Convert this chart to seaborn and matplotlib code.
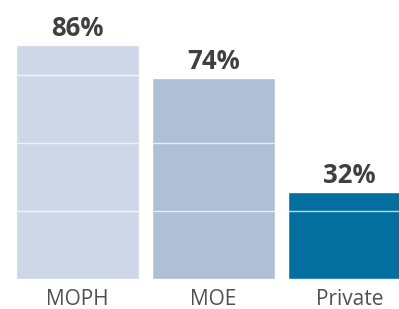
import matplotlib
matplotlib.use("Agg")
import matplotlib.pyplot as plt
import seaborn as sns
import pandas as pd

# Dados
categories = ["MOPH", "MOE", "Private"]
values = [86, 74, 32]
labels = ["86%", "74%", "32%"]
colors = ["#cdd7e7", "#afbfd6", "#036f9f"]

sns.set_style("white")
plt.rcParams['font.family'] = ['Open Sans', 'DejaVu Sans']

df = pd.DataFrame({"cat": categories, "val": values})

fig = plt.figure(figsize=(3.99, 3.09), dpi=100)
ax = fig.add_axes([0, 30 / 309, 1, 279 / 309])

sns.barplot(data=df, x="cat", y="val", hue="cat", palette=colors,
            width=0.9, saturation=1, legend=False, ax=ax)

ax.set_xlim(-0.57, 2.364)
ax.set_ylim(0, 102.6)

# grade branca sobre as barras
ax.set_yticks([25, 50, 75])
ax.yaxis.grid(True, color="white", linewidth=1, alpha=0.75)
ax.set_axisbelow(False)
ax.tick_params(axis="y", left=False, labelleft=False)

for cont, lab in zip(ax.containers, labels):
    ax.bar_label(cont, labels=[lab], padding=2, fontsize=18.5,
                 fontweight="bold", color="#404040")

ax.tick_params(axis="x", length=0, pad=7, labelsize=15, labelcolor="#505050")
ax.set_xlabel("")
ax.set_ylabel("")
for s in ax.spines.values():
    s.set_visible(False)

fig.savefig("out.png", dpi=100)
plt.close()
